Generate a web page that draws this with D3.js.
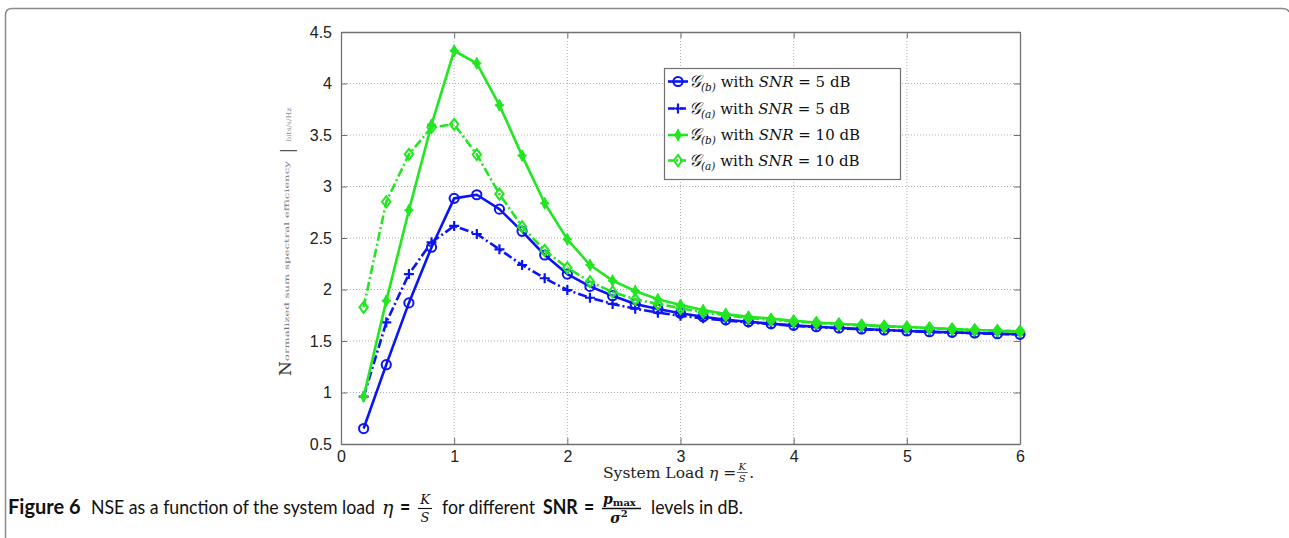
<!DOCTYPE html>
<html><head><meta charset="utf-8">
<script src="https://cdn.jsdelivr.net/npm/d3@7"></script>
<style>
html,body{margin:0;padding:0;background:#fff;}
svg{display:block;}
</style></head>
<body>
<svg id="chart" width="1289" height="538"></svg>
<script>
const xValues = [0.2,0.4,0.6,0.8,1.0,1.2,1.4,1.6,1.8,2.0,2.2,2.4,2.6,2.8,3.0,3.2,3.4,3.6,3.8,4.0,4.2,4.4,4.6,4.8,5.0,5.2,5.4,5.6,5.8,6.0];
const gb5  = [0.65,1.27,1.87,2.41,2.885,2.92,2.78,2.565,2.335,2.15,2.03,1.94,1.86,1.81,1.77,1.736,1.707,1.687,1.668,1.652,1.639,1.626,1.617,1.607,1.597,1.59,1.584,1.578,1.571,1.565];
const ga5  = [0.96,1.68,2.15,2.458,2.617,2.539,2.39,2.238,2.109,1.995,1.92,1.86,1.813,1.775,1.745,1.72,1.70,1.68,1.663,1.648,1.635,1.624,1.614,1.605,1.596,1.589,1.582,1.576,1.570,1.564];
const gb10 = [0.96,1.89,2.77,3.60,4.318,4.196,3.79,3.30,2.837,2.487,2.238,2.086,1.985,1.905,1.85,1.80,1.762,1.736,1.717,1.697,1.68,1.668,1.655,1.645,1.636,1.626,1.617,1.607,1.60,1.59];
const ga10 = [1.827,2.852,3.312,3.575,3.604,3.31,2.927,2.61,2.38,2.21,2.076,1.976,1.905,1.86,1.817,1.78,1.75,1.725,1.705,1.69,1.675,1.663,1.652,1.642,1.633,1.624,1.616,1.608,1.60,1.594];
const xTicks = [0,1,2,3,4,5,6];
const yTicks = [0.5,1,1.5,2,2.5,3,3.5,4,4.5];
const yTickLabels = ["0.5","1","1.5","2","2.5","3","3.5","4","4.5"];
const seriesNames = ["b","a","b","a"];
const seriesSNR = ["5","5","10","10"];

const svg = d3.select("#chart");
const X0=341, X1=1020, Y0=444, Y1=32;
const x = d3.scaleLinear().domain([0,6]).range([X0,X1]);
const y = d3.scaleLinear().domain([0.5,4.5]).range([Y0,Y1]);

// outer frame
svg.append("path")
  .attr("d","M5.5,538 L5.5,15 Q5.5,8.5 12,8.5 L1282,8.5 Q1288,8.5 1289,12")
  .attr("fill","none").attr("stroke","#8a8a8a").attr("stroke-width",1.5);

// grid
const g = svg.append("g");
g.selectAll(".gx").data(xTicks.slice(1,-1)).enter().append("line")
  .attr("x1",d=>x(d)).attr("x2",d=>x(d)).attr("y1",Y0).attr("y2",Y1)
  .attr("stroke","#b0b0b0").attr("stroke-width",1).attr("stroke-dasharray","1,2");
g.selectAll(".gy").data(yTicks.slice(1,-1)).enter().append("line")
  .attr("y1",d=>y(d)).attr("y2",d=>y(d)).attr("x1",X0).attr("x2",X1)
  .attr("stroke","#b0b0b0").attr("stroke-width",1).attr("stroke-dasharray","1,2");

// axes (ticks inside)
const axStyle = sel => {
  sel.select(".domain").attr("stroke","#707070").attr("stroke-width",1.3);
  sel.selectAll(".tick line").attr("stroke","#707070");
  sel.selectAll("text").attr("font-family","Liberation Sans, Arial, sans-serif").attr("font-size",16).attr("fill","#222");
};
svg.append("g").attr("transform",`translate(0,${Y0})`)
  .call(d3.axisBottom(x).tickValues(xTicks).tickSizeInner(-6).tickSizeOuter(0).tickPadding(7).tickFormat(d3.format("d")))
  .call(axStyle);
svg.append("g").attr("transform",`translate(0,${Y1})`)
  .call(d3.axisTop(x).tickValues(xTicks).tickSizeInner(-6).tickSizeOuter(0).tickFormat(""))
  .call(axStyle);
svg.append("g").attr("transform",`translate(${X0},0)`)
  .call(d3.axisLeft(y).tickValues(yTicks).tickSizeInner(-6).tickSizeOuter(0).tickPadding(9).tickFormat((d,i)=>yTickLabels[i]))
  .call(axStyle);
svg.append("g").attr("transform",`translate(${X1},0)`)
  .call(d3.axisRight(y).tickValues(yTicks).tickSizeInner(-6).tickSizeOuter(0).tickFormat(""))
  .call(axStyle);

// series
const BLUE="#0a14f5", GREEN="#22e622";
const series = [
  {vals:gb5, color:BLUE, dash:null, marker:"circle"},
  {vals:ga5, color:BLUE, dash:"9,3,2,3", marker:"plus"},
  {vals:gb10, color:GREEN, dash:null, marker:"star"},
  {vals:ga10, color:GREEN, dash:"9,3,2,3", marker:"diamond"}
];
const line = d3.line().x(d=>x(d[0])).y(d=>y(d[1]));

function drawMarker(sel, type, color){
  if(type==="circle"){
    sel.append("circle").attr("r",4.6).attr("fill","none").attr("stroke",color).attr("stroke-width",2);
  } else if(type==="plus"){
    sel.append("path").attr("d","M-5,0H5M0,-5V5").attr("stroke",color).attr("stroke-width",2.2).attr("fill","none");
  } else if(type==="star"){
    sel.append("path").attr("d","M0,-5L3,0L0,5L-3,0Z").attr("fill",color).attr("stroke",color).attr("stroke-width",1.5);
    sel.append("path").attr("d","M-4.5,0H4.5M0,-5.5V5.5").attr("stroke",color).attr("stroke-width",2).attr("fill","none");
  } else if(type==="diamond"){
    sel.append("path").attr("d","M0,-5.5L4.2,0L0,5.5L-4.2,0Z").attr("fill","none").attr("stroke",color).attr("stroke-width",2);
  }
}

series.forEach(s=>{
  const data = xValues.map((v,i)=>[v,s.vals[i]]);
  svg.append("path").datum(data).attr("d",line).attr("fill","none")
    .attr("stroke",s.color).attr("stroke-width",2.6)
    .attr("stroke-dasharray",s.dash).attr("stroke-linejoin","round");
  svg.append("g").selectAll("g").data(data).enter().append("g")
    .attr("transform",d=>`translate(${x(d[0])},${y(d[1])})`)
    .each(function(){ drawMarker(d3.select(this), s.marker, s.color); });
});

// legend
const lg = svg.append("g");
lg.append("rect").attr("x",664.5).attr("y",68.5).attr("width",236).attr("height",111)
  .attr("fill","#fff").attr("stroke","#707070").attr("stroke-width",1.2);
const rowY = [81.5,108.5,135,160.5];
series.forEach((s,i)=>{
  const r = lg.append("g").attr("transform",`translate(0,${rowY[i]})`);
  r.append("line").attr("x1",668).attr("x2",688).attr("y1",0).attr("y2",0)
    .attr("stroke",s.color).attr("stroke-width",2.6).attr("stroke-dasharray",s.dash?"6,2,2,2":null);
  drawMarker(r.append("g").attr("transform","translate(678,0)"), s.marker, s.color);
  const t = r.append("text").attr("x",689).attr("y",5)
    .attr("font-family","DejaVu Serif, Liberation Serif, serif").attr("font-size",15).attr("fill","#111");
  t.append("tspan").attr("font-size",17).attr("font-style","italic").text("𝒢");
  t.append("tspan").attr("font-size",10.5).attr("dy",4).attr("font-style","italic").text("("+seriesNames[i]+")");
  t.append("tspan").attr("dy",-4).text(" with ");
  t.append("tspan").attr("font-style","italic").text("SNR");
  t.append("tspan").text(" = "+seriesSNR[i]+" dB");
});

// x label
const xl = svg.append("g").attr("font-family","DejaVu Serif, Liberation Serif, serif").attr("fill","#222");
const xlt = xl.append("text").attr("x",603).attr("y",478).attr("font-size",15.5);
xlt.append("tspan").text("System Load ");
xlt.append("tspan").attr("font-style","italic").text("η");
xlt.append("tspan").text(" = ");
const xlw = xlt.node().getComputedTextLength();
const fx = 603 + xlw + 6;
xl.append("text").attr("x",fx).attr("y",470).attr("font-size",10).attr("font-style","italic").attr("text-anchor","middle").text("K");
xl.append("line").attr("x1",fx-5.5).attr("x2",fx+5.5).attr("y1",472.5).attr("y2",472.5).attr("stroke","#222").attr("stroke-width",0.7);
xl.append("text").attr("x",fx).attr("y",482).attr("font-size",10).attr("font-style","italic").attr("text-anchor","middle").text("S");
xl.append("text").attr("x",fx+7).attr("y",478).attr("font-size",15.5).text(".");

// y label (partially rendered in original)
const yl = svg.append("text").attr("transform","translate(291,376) rotate(-90)")
  .attr("font-family","DejaVu Serif, Liberation Serif, serif").attr("fill","#333");
yl.append("tspan").attr("font-size",17).text("N");
yl.append("tspan").attr("font-size",6.5).attr("fill","#777").attr("dy",-2)
  .attr("textLength",200).attr("lengthAdjust","spacingAndGlyphs").text("ormalized sum spectral efficiency");
yl.append("tspan").attr("font-size",16).attr("fill","#555").attr("dy",4).attr("dx",8).text("|");
yl.append("tspan").attr("font-size",6.5).attr("fill","#888").attr("dx",6).attr("dy",-2)
  .attr("textLength",34).attr("lengthAdjust","spacingAndGlyphs").text("bits/s/Hz");

// caption: anchored segments, condensed sans text (horizontal scale transform)
const capFont = "Lato, Open Sans, sans-serif";
const mathFont = "DejaVu Serif, Liberation Serif, serif";
const CY=514, CS=20;
const cap = svg.append("g").attr("fill","#111");
function word(x0, str, opts={}){
  return cap.append("text").attr("x",x0).attr("y",CY).text(str)
    .attr("font-family",opts.math?mathFont:capFont).attr("font-size",opts.size||CS)
    .attr("font-weight",opts.bold?"bold":"normal").attr("font-style",opts.italic?"italic":"normal");
}
function squeeze(t, x0, f){
  t.attr("transform",`translate(${x0},0) scale(${f},1) translate(${-x0},0)`);
  return t;
}
const nse = word(91,"NSE as a function of the system load");
const k = 284 / nse.node().getComputedTextLength();
squeeze(nse, 91, k);
function cword(x0,str,opts){ return squeeze(word(x0,str,opts), x0, k); }
const fig = word(8,"Figure 6",{bold:true});
squeeze(fig, 8, Math.min(1, 78/fig.node().getComputedTextLength()));
word(382,"η",{math:true,italic:true,size:19});
cword(400,"=",{bold:true});
cap.append("text").attr("x",425).attr("y",504).attr("text-anchor","middle")
  .attr("font-family",mathFont).attr("font-style","italic").attr("font-size",13).text("K");
cap.append("line").attr("x1",418).attr("x2",432).attr("y1",508.5).attr("y2",508.5).attr("stroke","#111").attr("stroke-width",1.1);
cap.append("text").attr("x",425).attr("y",522).attr("text-anchor","middle")
  .attr("font-family",mathFont).attr("font-style","italic").attr("font-size",13).text("S");
cword(442,"for different");
cword(543,"SNR",{bold:true});
cword(584,"=",{bold:true});
const pn = cap.append("text").attr("x",603).attr("y",504).attr("font-family",mathFont).attr("font-weight","bold");
pn.append("tspan").attr("font-style","italic").attr("font-size",14).text("p");
pn.append("tspan").attr("font-size",10).attr("dy",2).text("max");
cap.append("line").attr("x1",602).attr("x2",641).attr("y1",508.5).attr("y2",508.5).attr("stroke","#111").attr("stroke-width",1.3);
const sd = cap.append("text").attr("x",619).attr("y",523).attr("text-anchor","middle").attr("font-family",mathFont).attr("font-weight","bold");
sd.append("tspan").attr("font-style","italic").attr("font-size",14).text("σ");
sd.append("tspan").attr("font-size",10).attr("dy",-6).text("2");
cword(651,"levels in dB.");
</script>
</body></html>
